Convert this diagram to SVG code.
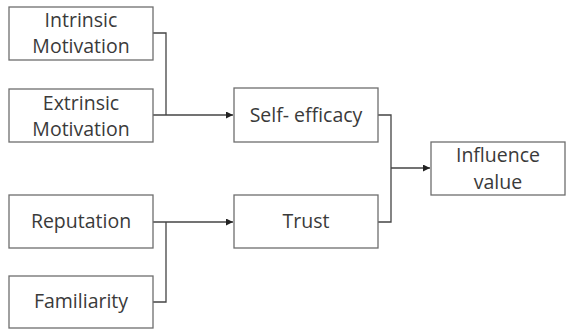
<svg xmlns="http://www.w3.org/2000/svg" width="573" height="330" viewBox="0 0 573 330">
<style>
.box{fill:#fff;stroke:#6e6e6e;stroke-width:1.3}
.t{font-family:"Open Sans","Liberation Sans",sans-serif;font-size:19.5px;fill:#3a3a3a;text-anchor:middle}
.c{fill:none;stroke:#444;stroke-width:1.3}
</style>
<defs>
<marker id="ah" viewBox="0 0 10 10" refX="10" refY="5" markerWidth="7" markerHeight="7" markerUnits="userSpaceOnUse" orient="auto"><path d="M0,0L10,5L0,10z" fill="#222"/></marker>
</defs>
<rect width="573" height="330" fill="#fff"/>
<g id="connectors">
<polyline class="c" points="153,33 166,33 166,115"/>
<line class="c" x1="153" y1="115" x2="233" y2="115" marker-end="url(#ah)"/>
<polyline class="c" points="153,302 166,302 166,222"/>
<line class="c" x1="153" y1="222" x2="233" y2="222" marker-end="url(#ah)"/>
<polyline class="c" points="378,115 391,115 391,222 378,222"/>
<line class="c" x1="391" y1="168" x2="430" y2="168" marker-end="url(#ah)"/>
</g>
<g id="intrinsic"><rect class="box" x="9" y="7" width="144" height="53"/><text class="t" x="81" y="27">Intrinsic</text><text class="t" x="81" y="53">Motivation</text></g>
<g id="extrinsic"><rect class="box" x="9" y="89" width="144" height="53"/><text class="t" x="81" y="110">Extrinsic</text><text class="t" x="81" y="136">Motivation</text></g>
<g id="reputation"><rect class="box" x="9" y="195" width="144" height="53"/><text class="t" x="81" y="228">Reputation</text></g>
<g id="familiarity"><rect class="box" x="9" y="276" width="144" height="52"/><text class="t" x="81" y="308">Familiarity</text></g>
<g id="selfefficacy"><rect class="box" x="234" y="88" width="144" height="54"/><text class="t" x="306" y="122">Self- efficacy</text></g>
<g id="trust"><rect class="box" x="234" y="195" width="144" height="53"/><text class="t" x="306" y="228">Trust</text></g>
<g id="influence"><rect class="box" x="431" y="142" width="134" height="53"/><text class="t" x="498" y="162">Influence</text><text class="t" x="498" y="189">value</text></g>
</svg>
